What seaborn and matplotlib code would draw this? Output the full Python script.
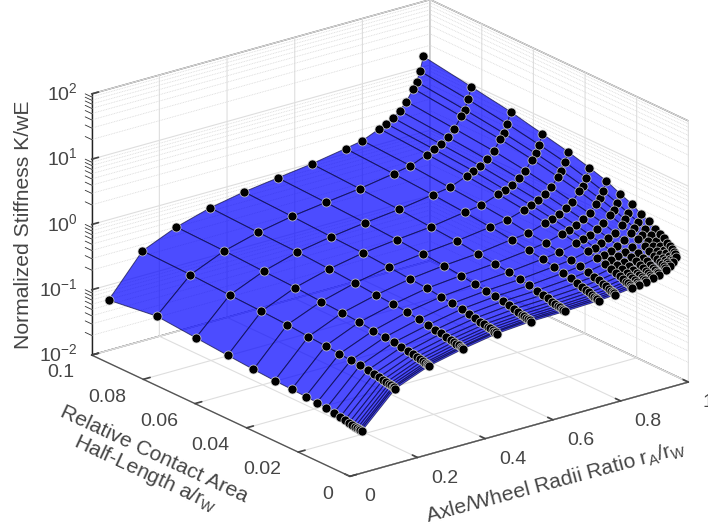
import numpy as np
import matplotlib
matplotlib.use('Agg')
import matplotlib.pyplot as plt
import seaborn as sns

# axle/wheel radii ratio, one column of the grid per value
radii_ratio = [0.05, 0.15, 0.25, 0.35, 0.45, 0.55, 0.65, 0.75, 0.80, 0.85,
               0.87, 0.89, 0.91, 0.93, 0.95, 0.96, 0.97, 0.98]

# relative contact half length, one row of the grid per value
half_length = [0.1, 0.0814, 0.0662, 0.0539, 0.0439, 0.0357, 0.0291, 0.0237, 0.0193, 0.0157,
               0.0128, 0.0104, 0.0085, 0.0069, 0.0056, 0.0046, 0.0037, 0.0030, 0.0025, 0.0020]

# log10(K/wE), one list per radii ratio
log_stiffness = [
    [-1.23, -1.13, -1.18, -1.22, -1.25, -1.27, -1.28, -1.29, -1.30, -1.32, -1.34, -1.36, -1.37, -1.38, -1.39, -1.40, -1.405, -1.41, -1.415, -1.42],
    [-.62, -.64, -.67, -.69, -.71, -.74, -.76, -.78, -.80, -.81, -.83, -.84, -.86, -.87, -.88, -.89, -.89, -.90, -.90, -.91],
    [-.40, -.42, -.45, -.47, -.50, -.52, -.54, -.57, -.59, -.60, -.62, -.64, -.65, -.66, -.67, -.68, -.69, -.69, -.70, -.705],
    [-.25, -.28, -.30, -.33, -.36, -.39, -.41, -.43, -.46, -.48, -.50, -.51, -.53, -.54, -.55, -.56, -.57, -.58, -.58, -.59],
    [-.15, -.18, -.21, -.23, -.26, -.29, -.31, -.34, -.36, -.38, -.40, -.42, -.44, -.45, -.46, -.47, -.48, -.49, -.49, -.50],
    [-.08, -.11, -.14, -.17, -.20, -.23, -.26, -.29, -.31, -.33, -.35, -.37, -.39, -.41, -.42, -.43, -.44, -.445, -.45, -.46],
    [-.01, -.045, -.08, -.12, -.15, -.19, -.22, -.25, -.28, -.305, -.33, -.35, -.37, -.39, -.40, -.415, -.42, -.43, -.44, -.45],
    [.08, .04, 0, -.04, -.08, -.12, -.16, -.195, -.23, -.26, -.29, -.31, -.34, -.36, -.37, -.39, -.40, -.41, -.42, -.43],
    [.13, .09, .04, 0, -.04, -.09, -.12, -.16, -.20, -.23, -.26, -.29, -.31, -.33, -.35, -.37, -.38, -.39, -.40, -.41],
    [.24, .19, .14, .09, .04, -.01, -.05, -.095, -.14, -.175, -.21, -.24, -.27, -.29, -.31, -.33, -.34, -.355, -.37, -.38],
    [.29, .24, .19, .13, .08, .03, -.02, -.06, -.11, -.15, -.18, -.21, -.245, -.27, -.29, -.31, -.32, -.34, -.35, -.363],
    [.35, .29, .24, .18, .13, .07, .02, -.03, -.075, -.12, -.15, -.19, -.22, -.25, -.27, -.29, -.30, -.32, -.33, -.346],
    [.43, .37, .31, .25, .19, .13, .08, .03, -.02, -.07, -.11, -.14, -.18, -.21, -.23, -.25, -.27, -.28, -.30, -.314],
    [.54, .47, .41, .34, .27, .20, .145, .09, .03, -.02, -.065, -.11, -.15, -.18, -.21, -.23, -.25, -.27, -.28, -.30],
    [.71, .63, .56, .48, .40, .33, .26, .19, .12, .07, .02, -.03, -.08, -.12, -.14, -.17, -.19, -.21, -.23, -.25],
    [.80, .72, .64, .56, .48, .40, .33, .26, .19, .13, .08, .03, -.02, -.06, -.09, -.12, -.14, -.16, -.18, -.20],
    [.95, .86, .77, .68, .60, .51, .43, .35, .27, .21, .15, .10, .04, 0, -.04, -.07, -.09, -.12, -.14, -.16],
    [1.16, 1.04, .94, .83, .74, .65, .57, .47, .40, .31, .26, .18, .14, .10, .06, .03, 0, -.03, -.06, -.09],
]

x_ticks = [0, 0.2, 0.4, 0.6, 0.8, 1]
x_labels = ['0', '0.2', '0.4', '0.6', '0.8', '1']
y_ticks = [0, 0.02, 0.04, 0.06, 0.08, 0.1]
y_labels = ['0', '0.02', '0.04', '0.06', '0.08', '0.1']
z_ticks = [-2, -1, 0, 1, 2]
z_labels = ['$10^{-2}$', '$10^{-1}$', '$10^{0}$', '$10^{1}$', '$10^{2}$']

sns.set_theme(style='white', rc={'mathtext.default': 'regular'})
plt.rcParams['font.family'] = ['Liberation Sans', 'DejaVu Sans']

text_col = '#454545'
grid_col = '#dedede'
box_col = '#6a6a6a'

fig = plt.figure(figsize=(7.08, 5.26), dpi=100)
# the box centre sits at (390, 238) px, axes side is worked out from the box size
ax = fig.add_axes([59.3 / 708, -42.7 / 526, 644 / 708, 644 / 526], projection='3d',
                  proj_type='ortho', computed_zorder=False)
ax.patch.set_alpha(0)
ax.view_init(elev=21.2, azim=-127.6)
ax.set_box_aspect((427, 423, 280), zoom=1)

ax.set_xlim(0, 1, view_margin=0)
ax.set_ylim(0, 0.1, view_margin=0)
ax.set_zlim(-2, 2, view_margin=0)

X, Y = np.meshgrid(radii_ratio, half_length, indexing='ij')
Z = np.array(log_stiffness)

# minor log grid on the two back walls
for dec in [-2, -1, 0, 1]:
    for m in range(2, 10):
        lv = dec + np.log10(m)
        ax.plot([0, 1], [0.1, 0.1], [lv, lv], color='#d8d8d8', lw=0.6, ls=(0, (1, 1)), zorder=1)
        ax.plot([1, 1], [0, 0.1], [lv, lv], color='#d8d8d8', lw=0.6, ls=(0, (1, 1)), zorder=1)
        ax.plot([0, 0], [0.1, 0.1025], [lv, lv], color='#333333', lw=0.6, zorder=1)

surf = ax.plot_surface(X, Y, Z, rstride=1, cstride=1, shade=False, linewidth=0.7, zorder=2)
surf.set_facecolor((0.0, 0.0, 1.0, 0.7))
surf.set_edgecolor((0.05, 0.05, 0.25, 0.7))

ax.scatter(X.ravel(), Y.ravel(), Z.ravel(), c='black', s=42, depthshade=False,
           edgecolors='#d0d0d0', linewidths=0.5, zorder=5)

ax.set_xticks(x_ticks, x_labels)
ax.set_yticks(y_ticks, y_labels)
ax.set_zticks(z_ticks, z_labels)
ax.tick_params(axis='both', labelsize=14, labelcolor=text_col, colors=text_col)
ax.tick_params(axis='x', pad=5)
ax.tick_params(axis='y', pad=4)
ax.tick_params(axis='z', labelsize=14, labelcolor=text_col, pad=-2.4)
ax.zaxis.set_ticks_position('upper')
plt.setp(ax.get_xticklabels(), ha='left', va='center')
plt.setp(ax.get_yticklabels(), ha='right', va='center')
plt.setp(ax.get_zticklabels(), ha='right', va='center')

for axis in [ax.xaxis, ax.yaxis, ax.zaxis]:
    axis.set_pane_color((1, 1, 1, 1))
    axis.pane.set_edgecolor(box_col)
    axis.pane.set_linewidth(1.0)
    axis.line.set_color('#555555')
    axis.line.set_linewidth(1.0)
    axis._axinfo['grid'].update(color=grid_col, linewidth=0.8)
    axis._axinfo['tick'].update(inward_factor=0, outward_factor=0.25)
ax.zaxis.line.set_color('#222222')
ax.grid(True)

fig.text(24 / 708, 1 - 225 / 526, 'Normalized Stiffness K/wE', rotation=90, fontsize=15.2,
         color=text_col, ha='center', va='center')
fig.text(149 / 708, 1 - 465 / 526, 'Relative Contact Area\nHalf-Length a/r$_W$', rotation=-25,
         fontsize=15.2, color=text_col, ha='center', va='center', rotation_mode='anchor',
         linespacing=1.0)
fig.text(556 / 708, 1 - 482 / 526, 'Axle/Wheel Radii Ratio r$_A$/r$_W$', rotation=15, fontsize=15.2,
         color=text_col, ha='center', va='center', rotation_mode='anchor')

fig.savefig('out.png', dpi=100)
